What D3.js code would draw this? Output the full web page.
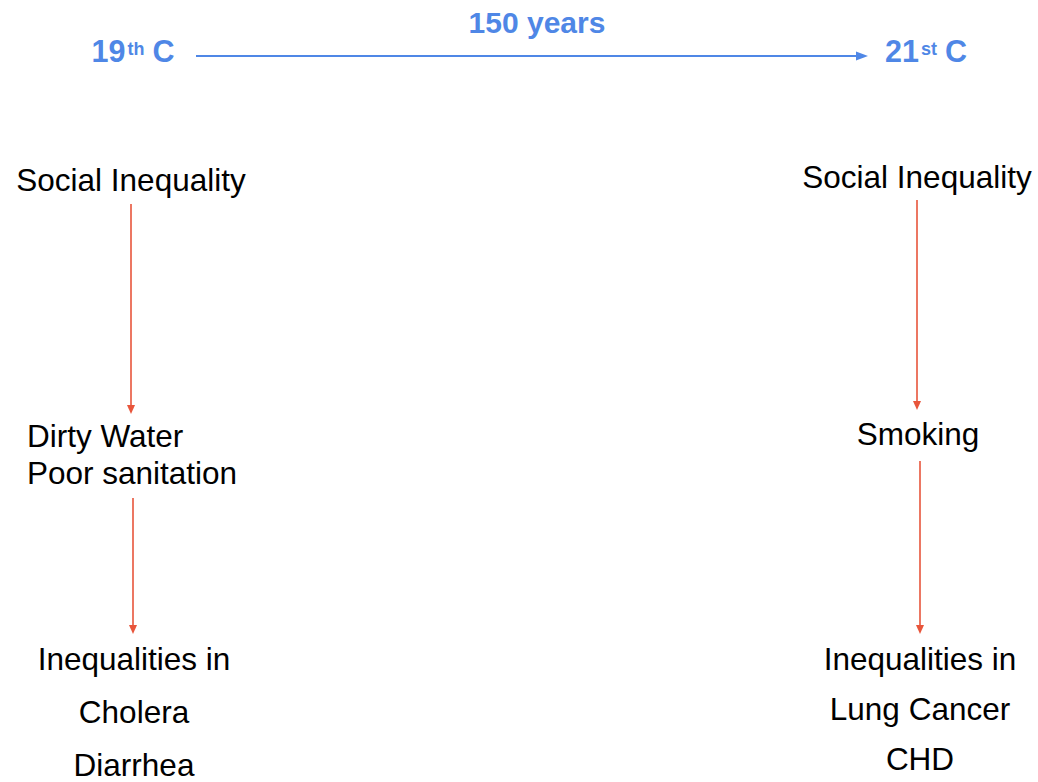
<!DOCTYPE html>
<html>
<head>
<meta charset="utf-8">
<script src="https://cdn.jsdelivr.net/npm/d3@7"></script>
<style>
  body { margin: 0; background: #fff; }
  svg { display: block; font-family: "Liberation Sans", Arial, Helvetica, sans-serif; }
</style>
</head>
<body>
<div id="chart"></div>
<script>
// content of the diagram
var eras = ["19th", "21st"];
var eraNumbers = ["19", "21"];
var eraSuffixes = ["th", "st"];
var spanLabel = "150 years";
var levels = ["cause", "pathway", "outcome"];
var causes = ["Social Inequality", "Social Inequality"];
var pathways = [["Dirty Water", "Poor sanitation"], ["Smoking"]];
var outcomes = [["Inequalities in", "Cholera", "Diarrhea"], ["Inequalities in", "Lung Cancer", "CHD"]];

var width = 1038, height = 782;
var blue = "#4f87e6";
var red = "#e8553b";
var bodySize = "31.5px";

var svg = d3.select("#chart").append("svg")
    .attr("width", width)
    .attr("height", height);

// columns and rows
var x = d3.scalePoint().domain(eras).range([131, 917]);
var y = d3.scaleOrdinal().domain(levels).range([191, 447, 670]);
var lineGap = { pathway: 37, outcome: 51 };

// ---- header: era labels and the time arrow
var headerX = d3.scalePoint().domain(eras).range([133, 926]);
var headerY = 62;

var eraText = svg.selectAll("text.era").data(eras).enter()
    .append("text")
    .attr("class", "era")
    .attr("x", d => headerX(d))
    .attr("y", headerY)
    .attr("text-anchor", "middle")
    .attr("fill", blue)
    .style("font-weight", "bold")
    .style("font-size", "30.5px");
eraText.append("tspan").text((d, i) => eraNumbers[i]);
eraText.append("tspan")
    .attr("dx", 2)
    .attr("dy", -7)
    .style("font-size", "18px")
    .text((d, i) => eraSuffixes[i]);
eraText.append("tspan")
    .attr("dx", 8)
    .attr("dy", 7)
    .text("C");

var timeLine = { x1: 196, x2: 868, y: 56 };
svg.append("line")
    .attr("x1", timeLine.x1)
    .attr("x2", timeLine.x2 - 8)
    .attr("y1", timeLine.y)
    .attr("y2", timeLine.y)
    .attr("stroke", blue)
    .attr("stroke-width", 2);
svg.append("path")
    .attr("d", `M${timeLine.x2},${timeLine.y} l-12,-4.5 l0,9 z`)
    .attr("fill", blue);

svg.append("text")
    .attr("x", (timeLine.x1 + timeLine.x2) / 2 + 5)
    .attr("y", 33)
    .attr("text-anchor", "middle")
    .attr("fill", blue)
    .style("font-weight", "bold")
    .style("font-size", "30px")
    .text(spanLabel);

// ---- columns
function drawArrow(cx, y0, y1) {
    svg.append("line")
        .attr("x1", cx).attr("x2", cx)
        .attr("y1", y0).attr("y2", y1 - 6)
        .attr("stroke", red)
        .attr("stroke-width", 1.6);
    svg.append("path")
        .attr("d", `M${cx},${y1} l-4,-9 l8,0 z`)
        .attr("fill", red);
}

eras.forEach(function (era, i) {
    var cx = x(era);

    // cause
    svg.append("text")
        .attr("x", cx)
        .attr("y", y("cause") - (i ? 3 : 0))
        .attr("text-anchor", "middle")
        .style("font-size", bodySize)
        .text(causes[i]);

    // pathway block (lines left aligned, block centred on column)
    var pg = svg.append("g");
    var pt = pg.selectAll("text").data(pathways[i]).enter()
        .append("text")
        .attr("y", (d, j) => y("pathway") - (i ? 2 : 0) + j * lineGap.pathway)
        .style("font-size", bodySize)
        .text(d => d);
    var maxW = d3.max(pt.nodes(), n => n.getComputedTextLength());
    pt.attr("x", cx + 1 - maxW / 2);

    // outcome block
    svg.selectAll(null).data(outcomes[i]).enter()
        .append("text")
        .attr("x", cx + 3)
        .attr("y", (d, j) => y("outcome") + j * (lineGap.outcome + (i ? -1 : 2)))
        .attr("text-anchor", "middle")
        .style("font-size", bodySize)
        .text(d => d);

    var nLines = pathways[i].length;
    drawArrow(cx + (i ? 0 : 0), y("cause") + 13 - (i ? 4 : 0), y("pathway") - 33 - (i ? 4 : 0));
    drawArrow(cx + (i ? 3 : 2), y("pathway") + (nLines - 1) * lineGap.pathway + 14, y("outcome") - 36);
});
</script>
</body>
</html>
